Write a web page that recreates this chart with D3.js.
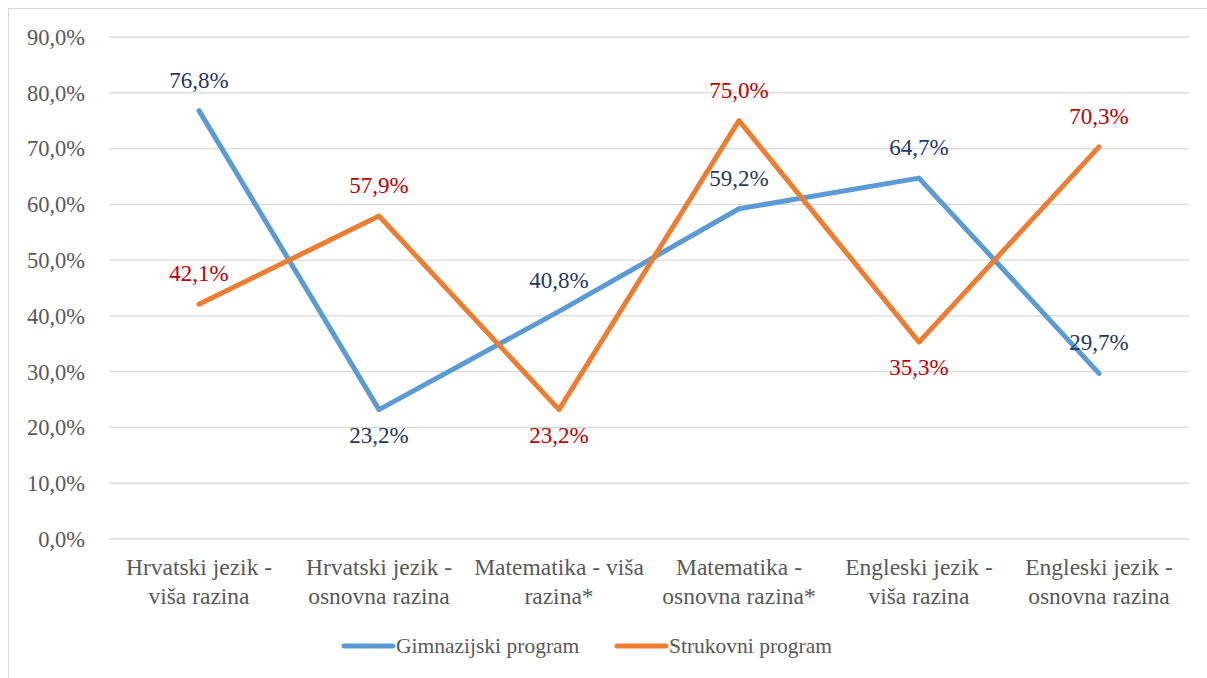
<!DOCTYPE html>
<html><head><meta charset="utf-8">
<script src="https://cdn.jsdelivr.net/npm/d3@7"></script>
<style>body{margin:0;background:#fff;}svg{display:block;} svg text{font-family:"Times New Roman",Times,"Liberation Serif",Tinos,"DejaVu Serif","Noto Serif",serif;}</style>
</head><body>
<svg id="c" width="1207" height="678"></svg>
<script>
const categories = [
  ["Hrvatski jezik -", "viša razina"],
  ["Hrvatski jezik -", "osnovna razina"],
  ["Matematika - viša", "razina*"],
  ["Matematika -", "osnovna razina*"],
  ["Engleski jezik -", "viša razina"],
  ["Engleski jezik -", "osnovna razina"]
];
const gimnazijski = [76.8, 23.2, 40.8, 59.2, 64.7, 29.7];
const strukovni = [42.1, 57.9, 23.2, 75.0, 35.3, 70.3];
const gimLabelPos = ["above", "below", "above", "above", "above", "above"];
const strLabelPos = ["above", "above", "below", "above", "below", "above"];
const seriesNames = ["Gimnazijski program", "Strukovni program"];
const yTicks = [0, 10, 20, 30, 40, 50, 60, 70, 80, 90];

const svg = d3.select("#c");

// outer border
svg.append("rect").attr("x", 8.5).attr("y", 8.5).attr("width", 1240).attr("height", 700)
  .attr("fill", "none").attr("stroke", "#d9d9d9").attr("stroke-width", 1);

const x = d3.scaleBand().domain(d3.range(categories.length)).range([109, 1189]);
const y = d3.scaleLinear().domain([0, 90]).range([539, 37]);
const cx = i => x(i) + x.bandwidth() / 2;

// gridlines
svg.append("g").selectAll("line").data(yTicks).join("line")
  .attr("x1", 109).attr("x2", 1189)
  .attr("y1", d => y(d)).attr("y2", d => y(d))
  .attr("stroke", "#d9d9d9").attr("stroke-width", 1.3);

// y axis labels
const fmt = d => d3.format(".1f")(d).replace(".", ",") + "%";
const yAxis = d3.axisLeft(y).tickValues(yTicks).tickFormat(fmt).tickSize(0).tickPadding(0);
const yg = svg.append("g").attr("transform", "translate(85,0)").call(yAxis);
yg.attr("font-family", null).attr("font-size", null);
yg.select(".domain").remove();
yg.selectAll("text").attr("font-size", 22.5).attr("fill", "#595959").attr("dy", "0.33em");

// x axis labels
const xg = svg.append("g");
categories.forEach((c, i) => {
  const t = xg.append("text").attr("x", cx(i)).attr("y", 575)
    .attr("text-anchor", "middle").attr("font-size", 23.5).attr("fill", "#595959");
  c.forEach((ln, j) => t.append("tspan").attr("x", cx(i)).attr("dy", j ? 29 : 0).text(ln));
});

const line = d3.line().x((d, i) => cx(i)).y(d => y(d));
const series = [
  {vals: gimnazijski, color: "#5B9BD5", lab: "#1F3864", pos: gimLabelPos},
  {vals: strukovni, color: "#ED7D31", lab: "#C00000", pos: strLabelPos}
];
series.forEach(s => {
  svg.append("path").datum(s.vals).attr("d", line).attr("fill", "none")
    .attr("stroke", s.color).attr("stroke-width", 5).attr("stroke-linejoin", "round").attr("stroke-linecap", "round");
});
series.forEach(s => {
  svg.append("g").selectAll("text").data(s.vals).join("text")
    .attr("x", (d, i) => cx(i))
    .attr("y", (d, i) => s.pos[i] === "above" ? y(d) - 23 : y(d) + 33)
    .attr("text-anchor", "middle").attr("font-size", 23)
    .attr("fill", s.lab).text(d => fmt(d));
});

// legend
const legX = [344, 617];
seriesNames.forEach((n, i) => {
  svg.append("line").attr("x1", legX[i]).attr("x2", legX[i] + 49).attr("y1", 646).attr("y2", 646)
    .attr("stroke", series[i].color).attr("stroke-width", 5).attr("stroke-linecap", "round");
  svg.append("text").attr("x", legX[i] + 52).attr("y", 653).attr("font-size", 21.5)
    .attr("fill", "#595959").text(n);
});
</script>
</body></html>
